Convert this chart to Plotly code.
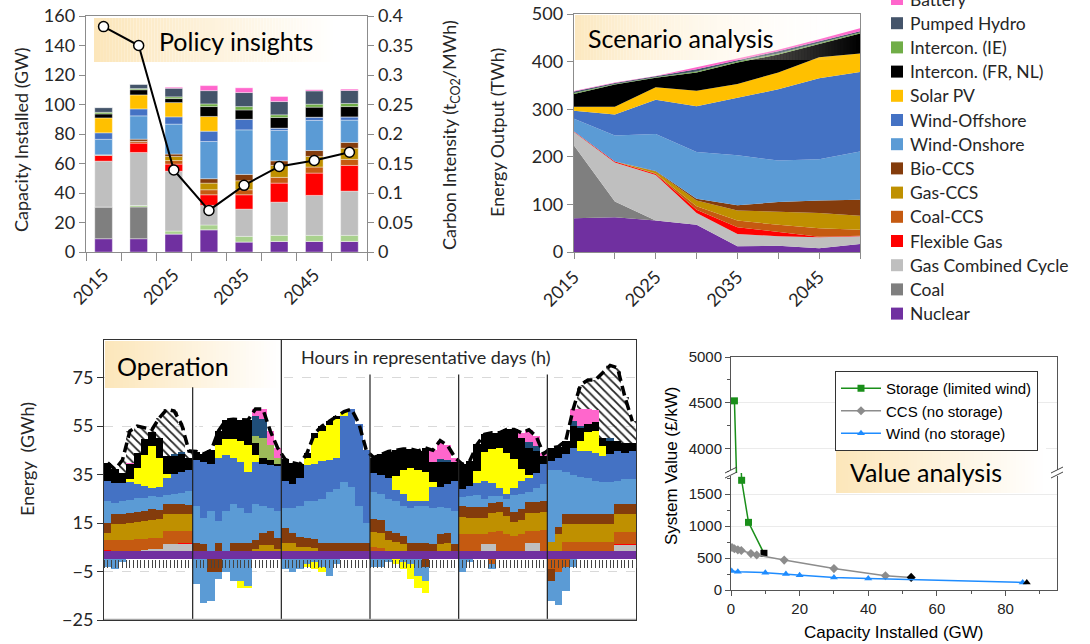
import plotly.graph_objects as go

W, H = 1090, 644
def fx(p): return p / W
def fy(p): return 1 - p / H

FC = "Lato"
FA = "Liberation Sans"
TXT = "#262626"

# ---------------- Panel 1: capacity installed (GW) ----------------
years = [2015, 2020, 2025, 2030, 2035, 2040, 2045, 2050]
cap_nuclear  = [9, 9, 12.2, 15.1, 6.8, 7.2, 7.2, 7.2]
cap_coal     = [21.5, 21.5, 0, 0, 0, 0, 0, 0]
cap_other    = [0, 1, 2, 3.2, 3.8, 4.1, 4.1, 4.1]
cap_gascc    = [31.1, 36, 40.6, 13.3, 18.5, 22.5, 27.1, 30]
cap_flex     = [3.9, 6.3, 4.8, 7.2, 9.7, 12.9, 15.1, 17.4]
cap_coalccs  = [0, 1.2, 2.4, 3.4, 3.4, 3.9, 4.1, 4.1]
cap_gasccs   = [0, 0, 2.8, 4.5, 6.1, 8.1, 7.2, 7.6]
cap_bio      = [0.4, 1.5, 1.6, 3, 4.3, 3.1, 4, 3.9]
cap_onshore  = [10.5, 15.8, 20.3, 25.2, 30.2, 20.6, 20.4, 15.1]
cap_offshore = [4.4, 4.7, 4.9, 7, 7.2, 1.6, 2.2, 2.2]
cap_solar    = [10.1, 9.5, 9.7, 10, 0, 0, 0, 0]
cap_icfr     = [2.7, 3.5, 2.7, 6.7, 6.3, 7.2, 6.8, 7]
cap_ie       = [1.1, 0.8, 1.2, 1.8, 2.3, 1.8, 2, 2.1]
cap_pumped   = [3.2, 2.9, 5.8, 9, 9.5, 9, 9, 8.8]
cap_battery  = [0, 0, 0.7, 3.4, 3.2, 3.4, 0.8, 0.9]
carbon_int   = [0.382, 0.350, 0.139, 0.0705, 0.113, 0.145, 0.155, 0.169]
year_labels  = ["2015", "2025", "2035", "2045"]
year_label_vals = [2015, 2025, 2035, 2045]

# ---------------- Panel 2: energy output (TWh) ----------------
out_nuclear  = [71, 73, 66, 57, 12, 13, 8, 17]
out_coal     = [153, 33, 0, 0, 0, 0, 0, 0]
out_gascc    = [28, 82, 96, 25, 26, 20, 23, 16]
out_flex     = [1, 2, 2, 7, 14, 9, 1, 1]
out_coalccs  = [0, 0, 1, 7, 14, 15, 18, 13]
out_gasccs   = [0, 0, 4, 12, 21, 28, 32, 29]
out_bio      = [0, 0, 1, 4, 11, 20, 26, 34]
out_onshore  = [27, 55, 78, 98, 105, 87, 87, 101]
out_offshore = [17, 44, 72, 96, 121, 150, 170, 167]
out_solar    = [8, 16, 26, 33, 29, 35, 44, 39]
out_icfr     = [27, 47, 20, 38, 45, 38, 28, 42]
out_ie       = [2, 1, 1, 2, 2, 2, 2, 2]
out_pumped   = [3, 2, 2, 5, 3, 5, 4, 3]
out_battery  = [1, 1, 1, 4, 3, 3, 4, 6]

legend_names = ["Battery", "Pumped Hydro", "Intercon. (IE)", "Intercon. (FR, NL)", "Solar PV",
                "Wind-Offshore", "Wind-Onshore", "Bio-CCS", "Gas-CCS", "Coal-CCS", "Flexible Gas",
                "Gas Combined Cycle", "Coal", "Nuclear"]

# ---------------- Panel 3: operation (GWh), 6 representative days, 2-hour blocks ----------------
op_nuclear = [3.3, 3.3, 3.3, 3.3, 3.3, 3.3, 3.3, 3.3, 3.3, 3.3, 3.3, 3.3,
              3.3, 3.3, 3.3, 3.3, 3.3, 3.3, 3.3, 3.3, 3.3, 3.3, 3.3, 3.3,
              3.3, 3.3, 3.3, 3.3, 3.3, 3.3, 3.3, 3.3, 3.3, 3.3, 3.3, 3.3,
              3.3, 3.3, 3.3, 3.3, 3.3, 3.3, 3.3, 3.3, 3.3, 3.3, 3.3, 3.3,
              3.3, 3.3, 3.3, 3.3, 3.3, 3.3, 3.3, 3.3, 3.3, 3.3, 3.3, 3.3,
              3.3, 3.3, 3.3, 3.3, 3.3, 3.3, 3.3, 3.3, 3.3, 3.3, 3.3, 3.3]
op_gascc = [0, 0, 0, 0, 0, 0.5, 1, 1, 3, 3, 3, 3,
            0, 0, 0, 0, 0, 0, 0, 0, 0, 0, 0, 0,
            0, 0, 0, 0, 0, 0, 0, 0, 0, 0, 0, 0,
            0, 0, 0, 0, 0, 0, 0, 0, 0, 0, 0, 0,
            0, 0, 0, 3, 3, 0, 0, 0, 0, 3.4, 3.4, 0,
            0, 0, 0, 0, 0, 0, 0, 0, 0, 2.7, 2.7, 2.7]
op_flex = [0.5, 0.3, 0, 0, 0, 0, 0, 0, 0, 0, 0.3, 0.3,
           0, 0, 0, 0, 0, 0, 0, 0, 0, 0, 0, 0,
           0, 0, 0, 0, 0, 0, 0, 0, 0, 0, 0, 0,
           0, 0, 0, 0, 0, 0, 0, 0, 0, 0, 0, 0,
           0.3, 0, 0, 0, 0, 0, 0, 0, 0, 0, 0, 0.3,
           0, 0, 0, 0, 0, 0, 0, 0, 0, 0.3, 0.3, 0.3]
op_coalccs = [4.2, 4.4, 4.7, 4.9, 5.1, 4.8, 4.6, 4.7, 5.4, 5.4, 5.1, 5.1,
              0, 0, 0, 0, 0, 0, 0, 0, 0, 0, 0, 0,
              0, 0, 0, 0, 0, 0, 0, 0, 0, 0, 0, 0,
              2, 1.5, 0, 0, 0, 0, 0, 0, 0, 0, 0, 0,
              7, 7, 7, 4, 5, 8.4, 7, 6.3, 7, 5, 5, 8.4,
              0, 0, 4, 4, 4, 4, 4, 4, 4, 4.8, 4.8, 4.8]
op_gasccs = [3, 6.8, 6.8, 7, 7, 7.2, 7.5, 7.5, 7, 7, 7, 7,
             0, 0, 0, 0, 0, 0, 0, 0, 1, 2.5, 2.5, 1,
             3.5, 3.5, 2, 2, 1.5, 0, 0, 0, 0, 0, 0, 0,
             6, 6, 4.5, 4, 3, 0, 0, 0, 0, 3, 3.5, 0,
             6.9, 6.9, 6.9, 6.9, 8, 8, 7.5, 6, 6, 7.5, 7.5, 7.5,
             4, 7, 7.5, 7.5, 7.5, 7.5, 7.5, 7.5, 7.5, 7.5, 7.5, 7.5]
op_bio = [4.1, 4, 4, 4.1, 4.3, 4.2, 4.2, 3.7, 4, 4.3, 4.3, 3.7,
          3.5, 3, 0, 3.5, 0, 3.5, 3.5, 3.5, 3.8, 5, 6, 4.5,
          6, 4, 4, 3.5, 3.5, 3.3, 3.3, 3.3, 3.3, 3.3, 3.3, 3.3,
          5.5, 5.5, 4, 3.5, 3.5, 3.3, 3.3, 3.3, 3, 4, 4, 3,
          4.5, 4.5, 4.5, 4.5, 4, 4, 4, 4, 4.5, 4.5, 4.5, 4.5,
          0, 3, 4.1, 4.1, 4.1, 4.1, 4.1, 4.1, 4.1, 4.1, 4.1, 4.1]
op_onshore = [9, 4.6, 5.3, 5, 5.5, 5.4, 5.5, 5.5, 3.8, 3.8, 4.5, 5.8,
              15.2, 10.7, 16.7, 9.2, 16.7, 16.2, 14.2, 12.2, 14.9, 11.2, 9.2, 11.2,
              8.2, 10.2, 12.7, 15.2, 15.7, 18.4, 21.4, 22.4, 25.4, 23.4, 15.4, 8.4,
              11.2, 10.7, 13.2, 13.2, 12.2, 14.7, 15.4, 15.4, 14.7, 11.2, 10.2, 13.7,
              3.8, 4.3, 4.8, 3.3, 2.7, 2.3, 3.2, 6.9, 6.2, 4.3, 5.8, 7.3,
              29.7, 23.7, 17.1, 16.1, 15.1, 14.6, 13.6, 13.1, 13.1, 9.8, 10.3, 10.3]
op_offshore = [8.2, 8.2, 7.5, 7.7, 5.7, 4.8, 3.5, 4.1, 7.2, 8.3, 8.7, 8.5,
               18.8, 23.3, 19.2, 26, 23, 19, 19, 17, 17, 17.5, 18, 18.5,
               11.3, 9.9, 11.7, 15, 15.5, 15.5, 13, 13, 27, 32, 34, 30,
               7.5, 8, 8.7, 4.5, 5, 2.7, 2, 2, 9, 8.5, 10, 12.3,
               3.4, 4.2, 5, 7.3, 5.6, 3.6, 2, 3.1, 5.3, 5.7, 6.2, 8,
               3.6, 4.9, 7.3, 11, 10.7, 11.2, 11.5, 10.6, 11.3, 12.2, 11, 11.7]
op_solar = [0, 0, 0, 1, 7, 13, 17, 12, 1.4, 0, 0, 0,
            0, 0, 0, 5, 6.5, 7.5, 9, 11, 3, 0, 0, 0,
            0, 0, 0, 3, 10.5, 12.5, 14.5, 16, 2, 0, 0, 0,
            0, 0, 0, 6, 10, 13.5, 13, 12, 2, 0, 0, 0,
            0, 0, 5, 12, 14, 16.5, 17, 12, 5, 1, 0, 0,
            0, 0, 0, 0, 4, 8, 9, 4, 0, 0, 0, 0]
op_icfr = [7.6, 5.5, 4.2, 6.2, 6.1, 6.3, 6.1, 8.4, 7.5, 7.5, 7.1, 5.2,
           3.7, 3.2, 5.8, 6, 8, 8.3, 8.5, 10.5, 5, 2.5, 2, 1,
           9, 9, 5.5, 2, 2, 2, 1.5, 1, 0, 0, 0, 0,
           6.5, 8.3, 10.8, 10.5, 8.5, 8, 7.7, 10, 8, 10, 9, 7.7,
           10.3, 10.4, 10.9, 7.3, 6.6, 6.1, 9.6, 12, 12.9, 11.3, 9, 3.5,
           5.4, 4.6, 5.7, 9, 5.3, 3.3, 3.5, 3.4, 5.7, 4.3, 4, 3.3]
op_ie = [0, 0, 0, 0, 0, 0, 0, 0, 0, 0, 0, 0,
         0, 0, 0, 0, 0, 0, 0, 0, 3, 8, 6, 2.5,
         0, 0, 0, 0, 0, 0, 0, 0, 0, 0, 0, 0,
         0, 0, 0, 0, 0, 0, 0, 0, 0, 0, 0, 0,
         0, 0, 0, 0, 0, 0, 0, 0, 0, 0, 0, 0,
         0, 0, 0, 0, 0, 0, 0, 0, 0, 0, 0, 0]
op_pumped = [0, 0, 0, 0, 0, 0, 0, 0, 0, 1, 1, 0,
             0, 0, 0, 0, 0, 0, 0, 0, 8, 8, 0, 0,
             0, 0, 0, 0, 0, 0, 0, 0, 0, 0, 0, 0,
             0, 0, 0, 0, 0, 0, 0, 0, 0, 1.5, 1, 0,
             0, 0, 0, 0, 0, 0, 0, 0, 0, 2.5, 2, 0,
             0, 0, 0, 2, 1, 0, 0, 0, 1, 0, 0, 0]
op_battery = [0, 0, 0, 0.5, 0, 0, 0, 0, 0, 0, 0, 0,
              0, 0, 0, 0, 0, 0, 0, 0, 3, 4, 6, 4,
              0, 0, 0, 0, 0, 0, 0, 0, 0, 0, 0, 0,
              0, 0, 0, 0, 0, 0, 0, 0, 5, 7.5, 6, 2,
              0, 0, 0, 0, 0, 0, 0, 0, 2, 5, 4, 1,
              0, 0, 0, 5, 7, 6, 5, 0, 0, 0, 0, 0]
op_demand = [39.9, 37.1, 41, 52.9, 55, 54.3, 53.6, 58.4, 61.9, 61.2, 55.7, 44.7,
             44.5, 43.5, 45, 53, 57.5, 57.8, 57.5, 57.5, 62, 62, 53, 46,
             41.3, 39.9, 39.2, 44, 52, 55, 57, 59, 61, 62, 56, 45,
             42, 43.3, 44.5, 45, 45.5, 45.5, 44.7, 46, 45, 49, 47, 42,
             39.2, 40.6, 47.4, 51.6, 52.2, 52.2, 53.6, 53.6, 52.2, 53.5, 50.7, 43.5,
             46, 46.5, 49, 62, 72, 74, 74, 77, 80, 79, 67, 57]
op_curt_wind = [0, 0, 0, 0, 0, 0, 0, 0, 0, 0, 0, 0,
                16, 0, 0, 0, 0, 0, 0, 0, 0, 0, 0, 5,
                2, 0, 0, 0, 0, 5, 6, 7, 0, 3, 11, 20,
                0, 0, 0, 0, 0, 0, 0, 0, 0, 0, 0, 0,
                0, 0, 0, 0, 0, 0, 6, 0, 0, 0, 0, 0,
                14, 0, 0, 0, 0, 0, 0, 0, 0, 0, 0, 0]
op_curt_solar = [0, 0, 0, 0, 0, 0, 0, 0, 0, 0, 0, 0,
                 0, 0, 0, 0, 0, 0, 0, 0, 0, 0, 0, 0,
                 0, 0, 0, 0, 0, 0, 0, 0, 0, 0, 0, 0,
                 0, 0, 0, 0, 0, 0, 0, 0, 0, 0, 0, 0,
                 0, 0, 0, 0, 5, 10, 0, 0, 0, 0, 0, 0,
                 0, 0, 0, 0, 0, 0, 0, 0, 0, 0, 0, 0]
op_coalccs_neg = [0, 0, 0, 0, 0, 0, 0, 0, 0, 0, 0, 0,
                  0, 0, 0, 0, 0, 0, 0, 0, 0, 0, 0, 0,
                  0, 0, 0, 0, 0, 0, 0, 0, 0, 0, 0, 0,
                  0, 0, 0, 0, 0, 0, 0, 0, 0, 0, 0, 0,
                  0, 0, 0, 0, -2, 0, 0, 0, 0, 0, 0, 0,
                  -4, -5, -3, 0, 0, 0, 0, 0, 0, 0, 0, 0]
op_bio_neg = [0, 0, 0, 0, 0, 0, 0, 0, 0, 0, 0, 0,
              0, 0, -5, -5, 0, 0, 0, 0, 0, 0, 0, 0,
              0, 0, 0, 0, 0, 0, 0, 0, 0, 0, 0, 0,
              0, 0, 0, 0, 0, 0, 0, -3, 0, 0, 0, 0,
              0, 0, 0, 0, 0, 0, 0, 0, 0, 0, 0, 0,
              -5, 0, 0, 0, 0, 0, 0, 0, 0, 0, 0, 0]
op_onshore_neg = [-3, -4, -1, 0, 0, 0, 0, 0, 0, 0, 0, 0,
                  -10, -18, -12, -3, -5, -9, -9, -11, 0, 0, 0, 0,
                  -4, -5, -4, -2, -1, -3, -7, -2, 0, 0, 0, 0,
                  -3, -3, -1, 0, -1, -2, -7, -6, 0, 0, 0, 0,
                  -5, -1, 0, 0, -2, 0, 0, 0, 0, 0, 0, 0,
                  -8, -14, -10, -3, 0, 0, 0, 0, 0, 0, 0, 0]
op_solar_neg = [0, 0, 0, 0, 0, 0, 0, 0, 0, 0, 0, 0,
                0, 0, 0, 0, 0, 0, -3, -1, 0, 0, 0, 0,
                0, 0, 0, -1, -3, -2, 0, 0, 0, 0, 0, 0,
                0, 0, 0, -2, -3, -6, -5, -5, 0, 0, 0, 0,
                0, 0, 0, 0, 0, 0, 0, 0, 0, 0, 0, 0,
                0, 0, 0, 0, 0, 0, 0, 0, 0, 0, 0, 0]
op_curt_wind_neg = [0, 0, 0, 0, 0, 0, 0, 0, 0, 0, 0, 0,
                    0, 0, 0, 0, 0, 0, 0, 0, 0, 0, 0, 0,
                    0, 0, 0, 0, 0, 0, 0, 0, 0, 0, 0, 0,
                    0, 0, 0, 0, 0, 0, 0, 0, 0, 0, 0, 0,
                    0, 0, 0, -4, -6, 0, 0, 0, 0, 0, 0, 0,
                    0, 0, 0, 0, 0, 0, 0, 0, 0, 0, 0, 0]
op_curt_solar_neg = [0, 0, 0, 0, 0, 0, 0, 0, 0, 0, 0, 0,
                     0, 0, 0, 0, 0, 0, 0, 0, 0, 0, 0, 0,
                     0, 0, 0, 0, 0, 0, 0, 0, 0, 0, 0, 0,
                     0, 0, 0, 0, 0, 0, 0, 0, 0, 0, 0, 0,
                     0, 0, -12, -20, -18, 0, 0, 0, 0, 0, 0, 0,
                     0, 0, 0, 0, 0, 0, 0, 0, 0, 0, 0, 0]

# ---------------- Panel 4: system value ----------------
sto_x = [1.0, 3.1, 5.1, 9.6]
sto_y = [4520, 1716, 1058, 574]
ccs_x = [0.3, 1.0, 2.0, 3.0, 5.8, 7.5, 15.5, 30, 45, 52.5]
ccs_y = [665, 645, 628, 617, 569, 548, 468, 335, 223, 197]
wind_x = [0.2, 2.0, 10, 16, 20, 30, 40, 85, 86.2]
wind_y = [298, 287, 271, 250, 229, 197, 181, 117, 117]

# ---------------- colours ----------------
COL = dict(battery='#FF66CC', pumped='#44546A', ie='#70AD47', icfr='#000000', solar='#FFC000',
           offshore='#4472C4', onshore='#5B9BD5', bio='#843C0C', gasccs='#BF9000',
           coalccs='#C55A11', flex='#FF0000', gascc='#BFBFBF', coal='#7F7F7F',
           nuclear='#7030A0', other='#A9D18E')
legend_colors = [COL['battery'], COL['pumped'], COL['ie'], COL['icfr'], COL['solar'],
                 COL['offshore'], COL['onshore'], COL['bio'], COL['gasccs'], COL['coalccs'],
                 COL['flex'], COL['gascc'], COL['coal'], COL['nuclear']]

fig = go.Figure()

# Panel 1 bars
p1 = [(cap_nuclear, 'nuclear'), (cap_coal, 'coal'), (cap_other, 'other'), (cap_gascc, 'gascc'),
      (cap_flex, 'flex'), (cap_coalccs, 'coalccs'), (cap_gasccs, 'gasccs'), (cap_bio, 'bio'),
      (cap_onshore, 'onshore'), (cap_offshore, 'offshore'), (cap_solar, 'solar'),
      (cap_icfr, 'icfr'), (cap_ie, 'ie'), (cap_pumped, 'pumped'), (cap_battery, 'battery')]
for vals, k in p1:
    fig.add_trace(go.Bar(x=years, y=vals, width=2.5, marker_color=COL[k],
                         marker_line=dict(color='rgba(255,255,255,0.6)', width=0.6),
                         xaxis='x', yaxis='y', showlegend=False, hoverinfo='skip'))
fig.add_trace(go.Scatter(x=years, y=carbon_int, xaxis='x', yaxis='y2', mode='lines+markers',
                         line=dict(color='black', width=2),
                         marker=dict(symbol='circle', size=10, color='white',
                                     line=dict(color='black', width=1.5)),
                         showlegend=False, hoverinfo='skip'))

# Panel 2 stacked areas
p2 = [(out_nuclear, 'nuclear'), (out_coal, 'coal'), (out_gascc, 'gascc'), (out_flex, 'flex'),
      (out_coalccs, 'coalccs'), (out_gasccs, 'gasccs'), (out_bio, 'bio'), (out_onshore, 'onshore'),
      (out_offshore, 'offshore'), (out_solar, 'solar'), (out_icfr, 'icfr'), (out_ie, 'ie'),
      (out_pumped, 'pumped'), (out_battery, 'battery')]
for vals, k in p2:
    fig.add_trace(go.Scatter(x=years, y=vals, xaxis='x2', yaxis='y3', mode='lines',
                             stackgroup='p2', line=dict(width=0, color=COL[k]),
                             fillcolor=COL[k], showlegend=False, hoverinfo='skip'))

# Panel 3 operation bars
hours = [2 * i + 1 for i in range(len(op_nuclear))]
opc = dict(nuclear='#7030A0', gascc='#BFBFBF', flex='#FF0000', coalccs='#C55A11', gasccs='#BF9000',
           bio='#843C0C', onshore='#5B9BD5', offshore='#4472C4', solar='#FFFF00', icfr='#000000',
           ie='#9BBB59', pumped='#1F4E79', battery='#FF66CC')
pos_series = [(op_nuclear, 'nuclear'), (op_gascc, 'gascc'), (op_flex, 'flex'),
              (op_coalccs, 'coalccs'), (op_gasccs, 'gasccs'), (op_bio, 'bio'),
              (op_onshore, 'onshore'), (op_offshore, 'offshore'), (op_solar, 'solar'),
              (op_icfr, 'icfr'), (op_ie, 'ie'), (op_pumped, 'pumped'), (op_battery, 'battery')]
supply = [0.0] * len(hours)
for vals, k in pos_series:
    fig.add_trace(go.Bar(x=hours, y=vals, width=2, marker_color=opc[k], marker_line_width=0,
                         xaxis='x3', yaxis='y4', showlegend=False, hoverinfo='skip'))
    supply = [s + v for s, v in zip(supply, vals)]
unserved = [round(d - s, 2) if d - s > 0.3 else 0 for d, s in zip(op_demand, supply)]
fig.add_trace(go.Bar(x=hours, y=unserved, width=2, marker=dict(color='white', line_width=0,
                     pattern=dict(shape='\\', fgcolor='#222222', size=6, solidity=0.3)),
                     xaxis='x3', yaxis='y4', showlegend=False, hoverinfo='skip'))
fig.add_trace(go.Bar(x=hours, y=op_curt_wind, width=2, marker=dict(color='#5B9BD5', line_width=0,
                     pattern=dict(shape='.', fgcolor='white', size=4, solidity=0.35)),
                     xaxis='x3', yaxis='y4', showlegend=False, hoverinfo='skip'))
fig.add_trace(go.Bar(x=hours, y=op_curt_solar, width=2, marker=dict(color='#FFFF00', line_width=0,
                     pattern=dict(shape='.', fgcolor='white', size=4, solidity=0.35)),
                     xaxis='x3', yaxis='y4', showlegend=False, hoverinfo='skip'))
for vals, col in [(op_coalccs_neg, '#C55A11'), (op_bio_neg, '#843C0C'),
                  (op_onshore_neg, '#5B9BD5'), (op_solar_neg, '#FFFF00')]:
    fig.add_trace(go.Bar(x=hours, y=vals, width=2, marker_color=col, marker_line_width=0,
                         xaxis='x3', yaxis='y4', showlegend=False, hoverinfo='skip'))
fig.add_trace(go.Bar(x=hours, y=op_curt_wind_neg, width=2, marker=dict(color='#5B9BD5', line_width=0,
                     pattern=dict(shape='.', fgcolor='white', size=4, solidity=0.35)),
                     xaxis='x3', yaxis='y4', showlegend=False, hoverinfo='skip'))
fig.add_trace(go.Bar(x=hours, y=op_curt_solar_neg, width=2, marker=dict(color='#FFFF00', line_width=0,
                     pattern=dict(shape='.', fgcolor='white', size=4, solidity=0.35)),
                     xaxis='x3', yaxis='y4', showlegend=False, hoverinfo='skip'))
fig.add_trace(go.Scatter(x=hours, y=op_demand, mode='lines', xaxis='x3', yaxis='y4',
                         line=dict(color='black', width=3.5, dash='10px,5px'),
                         showlegend=False, hoverinfo='skip'))
# carrier for the hourly tick axis
fig.add_trace(go.Scatter(x=[0, 144], y=[0, 0], mode='lines', line=dict(width=0),
                         xaxis='x4', yaxis='y4', showlegend=False, hoverinfo='skip'))

# Panel 4 lines (drawn in lower and upper part of the broken axis)
for ya, xa, show in [('y5', 'x5', True), ('y6', 'x6', False)]:
    fig.add_trace(go.Scatter(x=sto_x, y=sto_y, xaxis=xa, yaxis=ya, mode='lines+markers',
                             name='Storage (limited wind)', showlegend=show,
                             line=dict(color='#1A8F1A', width=1.5),
                             marker=dict(symbol='square', size=7,
                                         color=['#1A8F1A'] * (len(sto_x) - 1) + ['black']),
                             hoverinfo='skip'))
    fig.add_trace(go.Scatter(x=ccs_x, y=ccs_y, xaxis=xa, yaxis=ya, mode='lines+markers',
                             name='CCS (no storage)', showlegend=show,
                             line=dict(color='#8C8C8C', width=1.5),
                             marker=dict(symbol='diamond', size=7,
                                         color=['#8C8C8C'] * (len(ccs_x) - 1) + ['black']),
                             hoverinfo='skip'))
    fig.add_trace(go.Scatter(x=wind_x, y=wind_y, xaxis=xa, yaxis=ya, mode='lines+markers',
                             name='Wind (no storage)', showlegend=show,
                             line=dict(color='#1E8CFF', width=1.5),
                             marker=dict(symbol='triangle-up', size=7,
                                         color=['#1E8CFF'] * (len(wind_x) - 1) + ['black']),
                             hoverinfo='skip'))

# ---------------- shapes ----------------
shapes = []
def grad_box(x0, x1, y0, y1, a0=1.0, a1=1.0, layer='above', step=3):
    c0 = (252, 230, 186)
    c1 = (255, 255, 255)
    n = int((x1 - x0) / step)
    for i in range(n):
        t = (i + 0.5) / n
        r = round(c0[0] + (c1[0] - c0[0]) * t)
        g = round(c0[1] + (c1[1] - c0[1]) * t)
        b = round(c0[2] + (c1[2] - c0[2]) * t)
        a = a0 + (a1 - a0) * t
        xa = x0 + (x1 - x0) * i / n
        xb = x0 + (x1 - x0) * (i + 1) / n
        shapes.append(dict(type='rect', xref='paper', yref='paper', x0=fx(xa), x1=fx(xb),
                           y0=fy(y1), y1=fy(y0), fillcolor=f'rgba({r},{g},{b},{a:.3f})',
                           line=dict(width=0), layer=layer))

grad_box(94, 336, 18, 62, layer='below')
grad_box(575, 859, 15, 60, a0=0.92, a1=0.0, layer='above')
grad_box(105, 279, 341, 388, layer='above')
grad_box(836, 1046, 448, 493, layer='above')

# day separators in operation panel
for xv, ytop in [(24, 71), (48, 90.5), (72, 76.3), (96, 76.3), (120, 76.3)]:
    shapes.append(dict(type='line', xref='x3', yref='y4', x0=xv, x1=xv, y0=-25, y1=ytop,
                       line=dict(color='#222222', width=1.2), layer='above'))
shapes.append(dict(type='line', xref='x3', yref='y4', x0=0, x1=144, y0=-25, y1=-25,
                   line=dict(color='#A6A6A6', width=2.5), layer='above'))

# axis break marks in value panel
for bx in [731, 1057]:
    shapes.append(dict(type='rect', xref='paper', yref='paper', x0=fx(bx - 2), x1=fx(bx + 2),
                       y0=fy(476), y1=fy(470), fillcolor='white', line=dict(width=0), layer='above'))
    for dy in [0, 5]:
        shapes.append(dict(type='line', xref='paper', yref='paper', x0=fx(bx - 6), x1=fx(bx + 6),
                           y0=fy(478 - dy), y1=fy(472 - dy), line=dict(color='#444', width=1),
                           layer='above'))

# manual legend squares for panels 1-2
ann = []
for i, (nm, cl) in enumerate(zip(legend_names, legend_colors)):
    yc = -1 + 24.2 * i
    shapes.append(dict(type='rect', xref='paper', yref='paper', x0=fx(891), x1=fx(903),
                       y0=fy(yc + 6), y1=fy(yc - 6), fillcolor=cl, line=dict(width=0)))
    ann.append(dict(x=fx(908), y=fy(yc), xref='paper', yref='paper', text=nm, showarrow=False,
                    xanchor='left', yanchor='middle', font=dict(family=FC, size=17.5, color=TXT)))

# ---------------- text annotations ----------------
def A(x, y, text, size, angle=0, xanchor='center', family=FC, color=TXT):
    ann.append(dict(x=fx(x), y=fy(y), xref='paper', yref='paper', text=text, showarrow=False,
                    xanchor=xanchor, yanchor='middle', textangle=angle,
                    font=dict(family=family, size=size, color=color)))

A(157, 41, "Policy insights", 25, xanchor='left', color='black')
A(586, 38, "Scenario analysis", 25, xanchor='left', color='black')
A(115, 366, "Operation", 25, xanchor='left', color='black')
A(299, 357, "Hours in representative days (h)", 18, xanchor='left')
A(848, 472, "Value analysis", 25, xanchor='left', color='black')
A(21, 140, "Capacity Installed (GW)", 18, angle=-90)
A(450, 135, "Carbon Intensity (t<sub>CO2</sub>/MWh)", 18, angle=-90)
A(497, 133, "Energy Output (TWh)", 18, angle=-90)
A(27, 459, "Energy  (GWh)", 18, angle=-90)
A(671, 466, "System Value (£/kW)", 17, angle=-90, family=FA, color='black')
A(894, 632, "Capacity Installed (GW)", 17, family=FA, color='black')

# ---------------- layout ----------------
grey = '#8C8C8C'
tf = dict(family=FC, size=18, color=TXT)
tfa = dict(family=FA, size=15, color='#222')
zero_y = fy(620) + (0 - (-25)) / (90.5 - (-25)) * (fy(340) - fy(620))

fig.update_layout(
    template='none',
    width=W, height=H, autosize=False, margin=dict(l=0, r=0, t=0, b=0, pad=0),
    paper_bgcolor='white', plot_bgcolor='rgba(0,0,0,0)', barmode='relative', bargap=0,
    font=dict(family=FC, color=TXT),
    xaxis=dict(domain=[fx(86), fx(367)], anchor='y', range=[2012.5, 2052.5], tickmode='array',
               tickvals=year_label_vals, ticktext=year_labels, ticks='', tickangle=-45,
               tickfont=tf, showline=True, linecolor=grey, linewidth=1.3, mirror=True,
               showgrid=False, zeroline=False, ticklabelstandoff=4, automargin=False,
               minor=dict(tickmode='linear', tick0=2012.5, dtick=5, ticks='outside', ticklen=8,
                          tickcolor=grey, showgrid=False)),
    yaxis=dict(domain=[fy(252), fy(16)], anchor='x', range=[0, 160], dtick=20, ticks='outside',
               ticklen=6, tickcolor=grey, showline=True, linecolor=grey, linewidth=1.3,
               showgrid=False, zeroline=False, tickfont=tf, automargin=False),
    yaxis2=dict(overlaying='y', side='right', anchor='x', range=[0, 0.4], dtick=0.05,
                ticks='outside', ticklen=6, tickcolor=grey, showline=True, linecolor=grey,
                linewidth=1.3, showgrid=False, zeroline=False, tickfont=tf, automargin=False),
    xaxis2=dict(domain=[fx(574), fx(860)], anchor='y3', range=[2015, 2050], tickmode='array',
                tickvals=year_label_vals, ticktext=year_labels, ticks='outside', ticklen=6,
                tickcolor=grey, tickangle=-45, tickfont=tf, showline=True, linecolor=grey,
                linewidth=1.3, mirror=True, showgrid=False, zeroline=False, automargin=False,
                minor=dict(tickmode='linear', tick0=2015, dtick=5, ticks='outside', ticklen=6,
                           tickcolor=grey, showgrid=False)),
    yaxis3=dict(domain=[fy(252), fy(14)], anchor='x2', range=[0, 500], dtick=100, ticks='outside',
                ticklen=6, tickcolor=grey, showline=True, linecolor=grey, linewidth=1.3,
                mirror=True, showgrid=False, zeroline=False, tickfont=tf, automargin=False),
    xaxis3=dict(domain=[fx(104), fx(636)], anchor='y4', range=[0, 144], showticklabels=False,
                ticks='', showline=True, linecolor='#333', mirror=True, showgrid=False,
                zeroline=False, automargin=False),
    yaxis4=dict(domain=[fy(620), fy(340)], anchor='x3', range=[-25, 90.5],
                tickvals=[-25, -5, 15, 35, 55, 75], ticks='outside', ticklen=6, tickcolor='#333',
                showline=True, linecolor='#333', mirror=True, showgrid=True, gridcolor='#D9D9D9',
                griddash='dash', zeroline=False, tickfont=tf, automargin=False),
    xaxis4=dict(overlaying='x3', anchor='free', position=zero_y, range=[0, 144],
                tickmode='linear', tick0=0, dtick=1, ticks='outside', ticklen=8, tickcolor='#444',
                tickwidth=1, showticklabels=False, showline=False, showgrid=False, zeroline=False,
                automargin=False),
    xaxis5=dict(domain=[fx(731), fx(1057)], anchor='y5', range=[0, 95], dtick=20,
                ticks='outside', ticklen=5, tickcolor='#555', showline=True, linecolor='#555',
                showgrid=False, zeroline=False, tickfont=tfa, automargin=False,
                minor=dict(dtick=10, ticks='outside', ticklen=3, tickcolor='#555', showgrid=False)),
    yaxis5=dict(domain=[fy(590), fy(473)], anchor='x5', range=[0, 1830],
                tickvals=[0, 500, 1000, 1500], ticks='outside', ticklen=5, tickcolor='#555',
                showline=True, linecolor='#555', mirror=True, showgrid=True, gridcolor='#EBEBEB',
                zeroline=False, tickfont=tfa, automargin=False,
                minor=dict(dtick=250, ticks='outside', ticklen=3, tickcolor='#555', showgrid=False)),
    xaxis6=dict(domain=[fx(731), fx(1057)], anchor='y6', matches='x5', side='top',
                showticklabels=False, ticks='', showline=True, linecolor='#555', showgrid=False,
                zeroline=False, automargin=False),
    yaxis6=dict(domain=[fy(473), fy(357)], anchor='x6', range=[3730, 5000],
                tickvals=[4000, 4500, 5000], ticks='outside', ticklen=5, tickcolor='#555',
                showline=True, linecolor='#555', mirror=True, showgrid=True, gridcolor='#EBEBEB',
                zeroline=False, tickfont=tfa, automargin=False,
                minor=dict(dtick=250, ticks='outside', ticklen=3, tickcolor='#555', showgrid=False)),
    legend=dict(x=fx(835), y=fy(371), xanchor='left', yanchor='top', bordercolor='#333',
                borderwidth=1, bgcolor='white', font=dict(family=FA, size=15, color='black'),
                tracegroupgap=0, itemwidth=40, traceorder='normal'),
    shapes=shapes, annotations=ann,
)

fig.write_html("out.html", config={"displayModeBar": False, "staticPlot": True})
# remove the browser's default page margin so the figure sits at the window origin
with open("out.html", "r", encoding="utf-8") as f:
    html = f.read()
html = html.replace("<head>", "<head><style>html,body{margin:0;padding:0;overflow:hidden;}</style>", 1)
with open("out.html", "w", encoding="utf-8") as f:
    f.write(html)
